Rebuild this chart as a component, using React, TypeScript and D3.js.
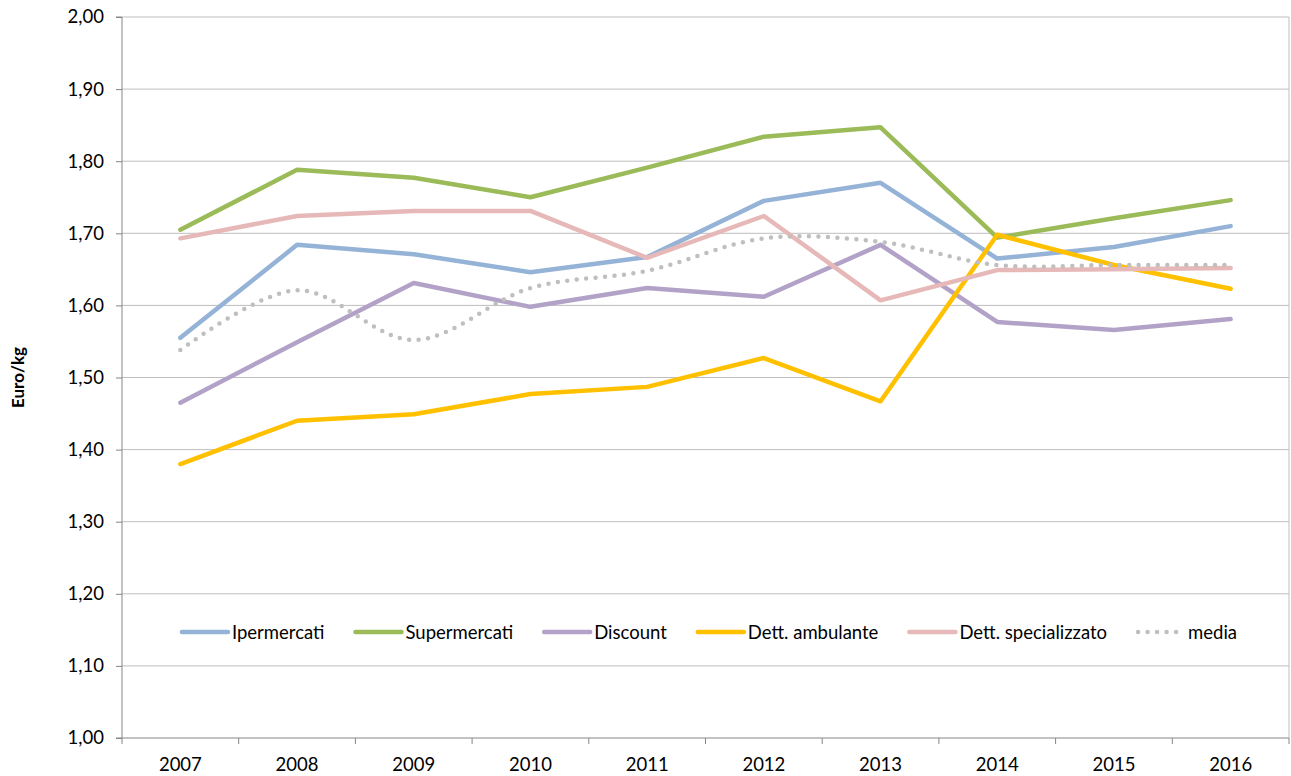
import React, { useRef, useEffect } from "react";
import * as d3 from "d3";

const years = ["2007", "2008", "2009", "2010", "2011", "2012", "2013", "2014", "2015", "2016"];
const ipermercati = [1.555, 1.684, 1.671, 1.646, 1.667, 1.745, 1.77, 1.665, 1.681, 1.71];
const supermercati = [1.705, 1.788, 1.777, 1.75, 1.791, 1.834, 1.847, 1.694, 1.721, 1.746];
const discount = [1.465, 1.549, 1.631, 1.598, 1.624, 1.612, 1.684, 1.577, 1.566, 1.581];
const dettAmbulante = [1.38, 1.44, 1.449, 1.477, 1.487, 1.527, 1.467, 1.698, 1.656, 1.623];
const dettSpecializzato = [1.693, 1.724, 1.731, 1.731, 1.666, 1.724, 1.607, 1.649, 1.65, 1.652];
const media = [1.538, 1.621, 1.552, 1.624, 1.648, 1.693, 1.688, 1.656, 1.656, 1.656];
const yTicks = [1.0, 1.1, 1.2, 1.3, 1.4, 1.5, 1.6, 1.7, 1.8, 1.9, 2.0];

const series = [
  { name: "Ipermercati", values: ipermercati, color: "#95b3d7", dotted: false },
  { name: "Supermercati", values: supermercati, color: "#9bbb59", dotted: false },
  { name: "Discount", values: discount, color: "#b3a2c7", dotted: false },
  { name: "Dett. ambulante", values: dettAmbulante, color: "#ffc000", dotted: false },
  { name: "Dett. specializzato", values: dettSpecializzato, color: "#e6b9b8", dotted: false },
  { name: "media", values: media, color: "#bfbfbf", dotted: true },
];

const W = 1291;
const H = 776;
const FONT = "Lato, 'Open Sans', sans-serif";
const FS = 18.5;

const App = () => {
  const ref = useRef<SVGSVGElement>(null);

  useEffect(() => {
    document.body.style.margin = "0";
    const svg = d3.select(ref.current);
    svg.selectAll("*").remove();

    const m = { left: 122, right: 1289, top: 17, bottom: 738 };

    const x = d3.scaleBand().domain(years).range([m.left, m.right]);
    const y = d3.scaleLinear().domain([1, 2]).range([m.bottom, m.top]);

    // gridlines
    svg
      .append("g")
      .selectAll("line")
      .data(yTicks.slice(1))
      .enter()
      .append("line")
      .attr("x1", m.left)
      .attr("x2", m.right)
      .attr("y1", (d) => y(d))
      .attr("y2", (d) => y(d))
      .attr("stroke", "#bebebe")
      .attr("stroke-width", 1);

    // right border
    svg
      .append("line")
      .attr("x1", m.right)
      .attr("x2", m.right)
      .attr("y1", m.top)
      .attr("y2", m.bottom)
      .attr("stroke", "#bebebe");

    // y axis
    const yAxis = svg
      .append("g")
      .attr("transform", `translate(${m.left},0)`)
      .call(
        d3
          .axisLeft(y)
          .tickValues(yTicks)
          .tickSize(6)
          .tickPadding(12)
          .tickFormat((d) => d3.format(".2f")(d as number).replace(".", ","))
      );
    yAxis.select(".domain").attr("stroke", "#868686").attr("d", `M-6,${m.top}H0V${m.bottom}H-6`);
    yAxis.selectAll(".tick line").attr("stroke", "#868686");
    yAxis.selectAll("text").attr("font-family", FONT).attr("font-size", FS).attr("fill", "#000");

    // x axis
    const xAxis = svg
      .append("g")
      .attr("transform", `translate(0,${m.bottom})`)
      .call(d3.axisBottom(x).tickSize(0).tickPadding(20));
    xAxis.select(".domain").attr("stroke", "#868686").attr("d", `M${m.left},0H${m.right}`);
    xAxis.selectAll("text").attr("font-family", FONT).attr("font-size", FS).attr("fill", "#000");
    svg
      .append("g")
      .selectAll("line")
      .data(d3.range(years.length + 1))
      .enter()
      .append("line")
      .attr("x1", (i) => m.left + i * x.step())
      .attr("x2", (i) => m.left + i * x.step())
      .attr("y1", m.bottom)
      .attr("y2", m.bottom + 6)
      .attr("stroke", "#868686");

    // y title
    svg
      .append("text")
      .attr("transform", `translate(24,${(m.top + m.bottom) / 2}) rotate(-90)`)
      .attr("text-anchor", "middle")
      .attr("font-family", FONT)
      .attr("font-size", 17)
      .attr("font-weight", "bold")
      .text("Euro/kg");

    const cx = (i: number) => (x(years[i]) as number) + x.bandwidth() / 2;

    // lines
    series.forEach((s) => {
      const line = d3
        .line<number>()
        .x((_, i) => cx(i))
        .y((d) => y(d))
        .curve(s.dotted ? d3.curveCatmullRom.alpha(0.5) : d3.curveLinear);
      svg
        .append("path")
        .datum(s.values)
        .attr("d", line)
        .attr("fill", "none")
        .attr("stroke", s.color)
        .attr("stroke-width", 4.5)
        .attr("stroke-linecap", "round")
        .attr("stroke-linejoin", "round")
        .attr("stroke-dasharray", s.dotted ? "0 9.5" : null);
    });

    // legend
    const legend = svg.append("g");
    const items = legend
      .selectAll("g")
      .data(series)
      .enter()
      .append("g");
    items
      .append("line")
      .attr("x1", 2)
      .attr("x2", 48)
      .attr("y1", 0)
      .attr("y2", 0)
      .attr("stroke", (d) => d.color)
      .attr("stroke-width", 4.5)
      .attr("stroke-linecap", "round")
      .attr("stroke-dasharray", (d) => (d.dotted ? "0 9.5" : null));
    items
      .append("text")
      .attr("x", 52)
      .attr("y", 6.5)
      .attr("font-family", FONT)
      .attr("font-size", FS)
      .text((d) => d.name);

    let offset = 0;
    const widths: number[] = [];
    items.each(function () {
      const t = d3.select(this).select("text").node() as SVGTextElement;
      widths.push(52 + t.getComputedTextLength());
    });
    const gap = 29;
    const total = d3.sum(widths) + gap * (widths.length - 1);
    const start = (m.left + m.right) / 2 + 3 - total / 2;
    items.attr("transform", (_, i) => {
      const tx = start + offset;
      offset += widths[i] + gap;
      return `translate(${tx},632)`;
    });
  }, []);

  return <svg ref={ref} width={W} height={H} style={{ display: "block", background: "#fff" }} />;
};

export default App;
